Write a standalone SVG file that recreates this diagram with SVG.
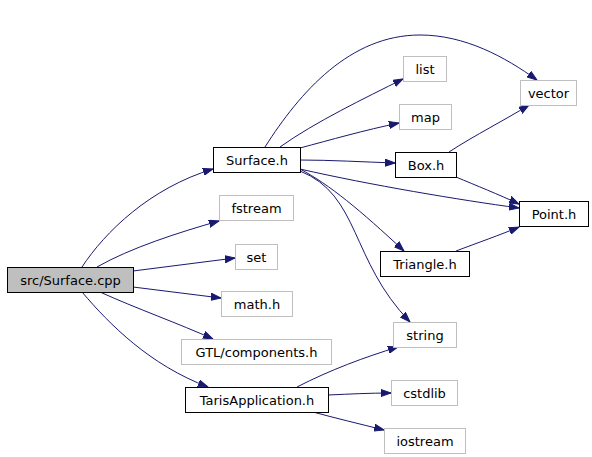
<svg xmlns="http://www.w3.org/2000/svg" width="592" height="457" viewBox="0 0 592 457">
<style>
.n rect{fill:#fff;stroke:#000;stroke-width:1}
.n.s rect{stroke:#bfbfbf}
.n.root rect{fill:#bfbfbf}
.n text{font-family:"DejaVu Sans",sans-serif;font-size:13px;fill:#000;text-anchor:middle}
.e path{fill:none;stroke:#191970;stroke-width:1;marker-end:url(#ah)}
</style>
<defs>
<marker id="ah" markerUnits="userSpaceOnUse" markerWidth="11" markerHeight="8" refX="10" refY="4" orient="auto">
<path d="M0,0.5 L10,4 L0,7.5 z" fill="#191970" stroke="#191970" stroke-width="1"/>
</marker>
</defs>
<rect width="592" height="457" fill="#fff"/>
<g id="connectors" class="e">
<path d="M82,267 C105,232 150,188 213,169"/>
<path d="M97,267 C130,248 180,232 219,221"/>
<path d="M133,271 L235,258"/>
<path d="M133,287 L221,298"/>
<path d="M100,292 C135,308 180,324 213,339"/>
<path d="M82,292 C110,325 150,365 208,387"/>
<path d="M265,147 C300,92 350,35 420,35 C465,35 505,57 537,80"/>
<path d="M280,147 C315,122 365,98 403,79"/>
<path d="M300,148 C330,140 365,130 399,123"/>
<path d="M300,160 C330,160 365,162 395,163"/>
<path d="M300,169 C370,185 460,200 519,208"/>
<path d="M300,169 C330,185 360,210 404,251"/>
<path d="M300,171 C360,195 350,260 410,322"/>
<path d="M449,152 C475,135 505,120 529,105"/>
<path d="M456,177 C475,185 500,195 519,204"/>
<path d="M456,251 C477,243 500,235 519,227"/>
<path d="M297,387 C330,370 365,357 398,347"/>
<path d="M328,395 C350,394 370,393 391,393"/>
<path d="M313,412 C335,418 360,424 384,430"/>
</g>
<g id="n_cpp" class="n root"><rect x="7.5" y="267.5" width="126" height="25"/><text x="70.5" y="284.5">src/Surface.cpp</text></g>
<g id="n_surface_h" class="n"><rect x="213.5" y="147.5" width="87" height="25"/><text x="257" y="164.5">Surface.h</text></g>
<g id="n_fstream" class="n s"><rect x="219.5" y="195.5" width="74" height="25"/><text x="256.5" y="212.5">fstream</text></g>
<g id="n_set" class="n s"><rect x="235.5" y="244.5" width="42" height="25"/><text x="256.5" y="261.5">set</text></g>
<g id="n_math" class="n s"><rect x="221.5" y="291.5" width="71" height="25"/><text x="257" y="308.5">math.h</text></g>
<g id="n_gtl" class="n s"><rect x="181.5" y="339.5" width="150" height="25"/><text x="256.5" y="356.5">GTL/components.h</text></g>
<g id="n_taris" class="n"><rect x="185.5" y="387.5" width="143" height="25"/><text x="257" y="404.5">TarisApplication.h</text></g>
<g id="n_list" class="n s"><rect x="403.5" y="56.5" width="43" height="25"/><text x="425" y="73.5">list</text></g>
<g id="n_map" class="n s"><rect x="399.5" y="104.5" width="52" height="25"/><text x="425.5" y="121.5">map</text></g>
<g id="n_box" class="n"><rect x="395.5" y="152.5" width="61" height="25"/><text x="426" y="169.5">Box.h</text></g>
<g id="n_triangle" class="n"><rect x="380.5" y="251.5" width="89" height="25"/><text x="425" y="268.5">Triangle.h</text></g>
<g id="n_string" class="n s"><rect x="393.5" y="322.5" width="63" height="25"/><text x="425" y="339.5">string</text></g>
<g id="n_cstdlib" class="n s"><rect x="391.5" y="380.5" width="66" height="25"/><text x="424.5" y="397.5">cstdlib</text></g>
<g id="n_iostream" class="n s"><rect x="384.5" y="428.5" width="81" height="25"/><text x="425" y="445.5">iostream</text></g>
<g id="n_vector" class="n s"><rect x="520.5" y="80.5" width="56" height="25"/><text x="548.5" y="97.5">vector</text></g>
<g id="n_point" class="n"><rect x="519.5" y="201.5" width="69" height="25"/><text x="554" y="218.5">Point.h</text></g>
</svg>
